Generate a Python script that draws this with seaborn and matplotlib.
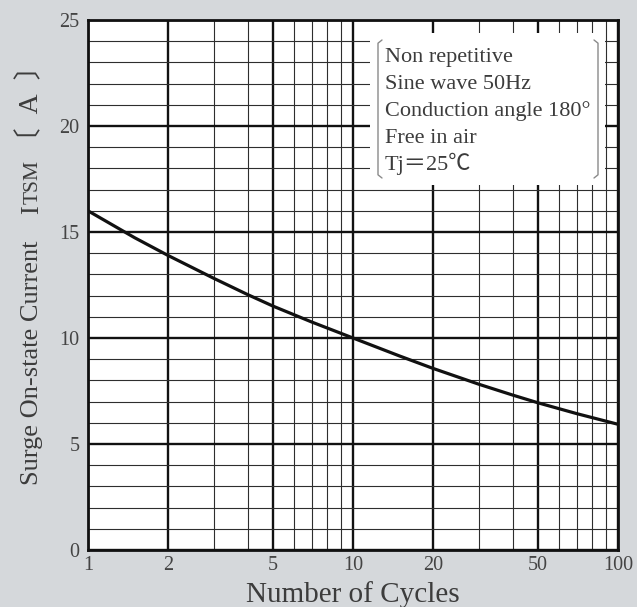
import numpy as np
import matplotlib
matplotlib.use("Agg")
import matplotlib.pyplot as plt
import matplotlib.ticker as mticker
from matplotlib.patches import Rectangle
import pandas as pd
import seaborn as sns

# dados
ciclos = [1, 1.5, 2, 3, 4, 5, 7, 10, 15, 20, 30, 40, 50, 70, 100]
itsm = [16.0, 14.73, 13.9, 12.8, 12.05, 11.5, 10.75, 10.0, 9.15, 8.57,
        7.81, 7.31, 6.94, 6.43, 5.93]

x_ticks = [1, 2, 5, 10, 20, 50, 100]
x_minor = [3, 4, 6, 7, 8, 9, 30, 40, 60, 70, 80, 90]
y_ticks = [0, 5, 10, 15, 20, 25]
y_minor = [v for v in range(1, 25) if v % 5 != 0]

condicoes = ["Non repetitive", "Sine wave 50Hz", "Conduction angle 180°",
             "Free in air", "Tj＝25℃"]

df = pd.DataFrame({"ciclos": ciclos, "itsm": itsm})

sns.set_style("white")
plt.rcParams["font.family"] = ["Liberation Serif", "Noto Sans CJK JP", "DejaVu Sans"]

fundo = "#d5d8db"
texto = "#3c3c3c"
W, H = 637, 607
L, R, T, B = 88, 618, 20, 550

fig = plt.figure(figsize=(W / 100, H / 100), dpi=100, facecolor=fundo)
ax = fig.add_axes([L / W, (H - B) / H, (R - L) / W, (B - T) / H])
ax.set_facecolor("white")

sns.lineplot(data=df, x="ciclos", y="itsm", ax=ax, color="#111111", lw=2.3, zorder=3)

ax.set_xscale("log")
ax.set_xlim(1, 100)
ax.set_ylim(0, 25)
ax.xaxis.set_major_locator(mticker.FixedLocator(x_ticks))
ax.xaxis.set_minor_locator(mticker.FixedLocator(x_minor))
ax.xaxis.set_major_formatter(mticker.FixedFormatter([str(v) for v in x_ticks]))
ax.xaxis.set_minor_formatter(mticker.NullFormatter())
ax.yaxis.set_major_locator(mticker.FixedLocator(y_ticks))
ax.yaxis.set_minor_locator(mticker.FixedLocator(y_minor))

ax.set_axisbelow(True)
ax.grid(which="major", color="#111111", lw=1.7)
ax.grid(which="minor", color="#2e2e2e", lw=0.8)
ax.tick_params(which="both", length=0, labelsize=14.5, labelcolor="#444444")
ax.tick_params(axis="x", pad=4)
ax.tick_params(axis="y", pad=6)
for s in ax.spines.values():
    s.set_color("#111111")
    s.set_linewidth(2.0)
ax.set_xlabel("")
ax.set_ylabel("")


def ax_frac(px, py):
    return (px - L) / (R - L), (B - py) / (B - T)


# caixa de condicoes
x0, y1 = ax_frac(370, 33)
x1, y0 = ax_frac(605, 185)
ax.add_patch(Rectangle((x0, y0), x1 - x0, y1 - y0, transform=ax.transAxes,
                       facecolor="white", edgecolor="none", zorder=1))
for i, linha in enumerate(condicoes):
    tx, ty = ax_frac(385, 62 + 27 * i)
    ax.text(tx, ty, linha, transform=ax.transAxes, fontsize=16, color=texto,
            va="baseline", ha="left", zorder=4)

# colchetes
bx0, bt = ax_frac(378, 40)
bx1, bb = ax_frac(598, 178)
gancho = 4 / (R - L)
ax.plot([bx0 + gancho, bx0, bx0, bx0 + gancho], [bt, bt - 0.006, bb + 0.006, bb],
        transform=ax.transAxes, color="#8a8a8a", lw=1.0, zorder=4)
ax.plot([bx1 - gancho, bx1, bx1, bx1 - gancho], [bt, bt - 0.006, bb + 0.006, bb],
        transform=ax.transAxes, color="#8a8a8a", lw=1.0, zorder=4)

# rotulo x
fig.text(((L + R) / 2) / W, 5 / H, "Number of Cycles", fontsize=21, color=texto,
         ha="center", va="baseline")

# rotulo y em partes (ITSM com versaletes)
fig.canvas.draw()
rend = fig.canvas.get_renderer()
base_x = 38 / W
partes = [("Surge On-state Current", 19, 0),
          ("I", 19, 27),
          ("TSM", 15.5, 1),
          ("〔\u2002A\u2002〕", 20, 5)]
y_px = H - 485
for txt, tam, gap in partes:
    y_px += gap
    t = fig.text(base_x, y_px / H, txt, fontsize=tam, color=texto, rotation=90,
                 rotation_mode="anchor", ha="left", va="baseline")
    y_px = t.get_window_extent(rend).y1

fig.savefig("out.png", dpi=100, facecolor=fundo)
